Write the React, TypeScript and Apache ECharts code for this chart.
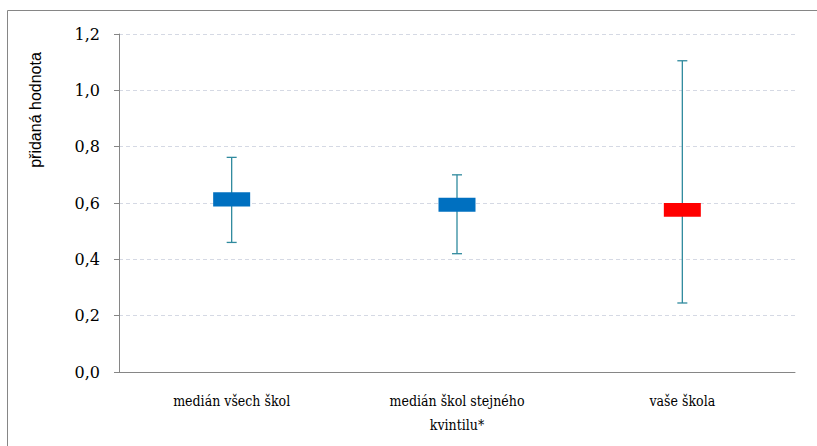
import React, { useEffect, useRef } from "react";
import * as echarts from "echarts";

const categories = ["medián všech škol", "medián škol stejného\nkvintilu*", "vaše škola"];
const whiskerLow = [0.46, 0.42, 0.245];
const boxLow = [0.588, 0.569, 0.551];
const boxHigh = [0.638, 0.619, 0.6];
const whiskerHigh = [0.762, 0.7, 1.105];
const boxColors = ["#0070C0", "#0070C0", "#FF0000"];
const yTicks = [0, 0.2, 0.4, 0.6, 0.8, 1.0, 1.2];

export default function App() {
  const ref = useRef<HTMLDivElement>(null);
  useEffect(() => {
    if (!ref.current) return;
    const chart = echarts.init(ref.current, null, { renderer: "svg" });
    const data = categories.map((_, i) => [i, whiskerLow[i], boxLow[i], boxHigh[i], whiskerHigh[i]]);
    chart.setOption({
      animation: false,
      backgroundColor: "#ffffff",
      graphic: [
        {
          type: "rect",
          shape: { x: 7.5, y: 10.5, width: 830, height: 460 },
          style: { fill: "none", stroke: "#868686", lineWidth: 1 },
          silent: true,
          z: -1,
        },
        {
          type: "text",
          x: 35,
          y: 110,
          rotation: Math.PI / 2,
          style: {
            text: "přidaná hodnota",
            fontFamily: "Liberation Sans",
            fontSize: 16,
            fill: "#000000",
            align: "center",
            verticalAlign: "middle",
          },
        },
      ],
      grid: { left: 119, right: 22, top: 34, bottom: 74, containLabel: false },
      xAxis: {
        type: "category",
        data: categories,
        axisLine: { show: true, lineStyle: { color: "#868686", width: 1 } },
        axisTick: { show: false },
        axisLabel: {
          margin: 17,
          color: "#000000",
          fontFamily: "DejaVu Serif Condensed",
          fontSize: 14,
          lineHeight: 24,
        },
        splitLine: { show: false },
      },
      yAxis: {
        type: "value",
        min: 0,
        max: 1.2,
        interval: 0.2,
        axisLine: { show: true, lineStyle: { color: "#868686", width: 1 } },
        axisTick: { show: true, length: 5, lineStyle: { color: "#868686" } },
        axisLabel: {
          margin: 19,
          color: "#000000",
          fontFamily: "DejaVu Serif",
          fontSize: 16,
          formatter: (v: number) => {
            const t = yTicks.find((x) => Math.abs(x - v) < 1e-6);
            return (t !== undefined ? t : v).toFixed(1).replace(".", ",");
          },
        },
        splitLine: { show: true, lineStyle: { color: "#D5D9E4", type: [4, 3], width: 1 } },
      },
      series: [
        {
          type: "custom",
          data,
          encode: { x: 0, y: [1, 2, 3, 4] },
          renderItem: (params: any, api: any) => {
            const i = api.value(0);
            const xc = api.coord([i, 0])[0];
            const yLo = api.coord([i, api.value(1)])[1];
            const yBl = api.coord([i, api.value(2)])[1];
            const yBh = api.coord([i, api.value(3)])[1];
            const yHi = api.coord([i, api.value(4)])[1];
            const boxW = 37;
            const capW = 10;
            const lineStyle = { stroke: "#2F8A9E", lineWidth: 1.3 };
            return {
              type: "group",
              children: [
                { type: "line", shape: { x1: xc, y1: yLo, x2: xc, y2: yHi }, style: lineStyle },
                { type: "line", shape: { x1: xc - capW / 2, y1: yHi, x2: xc + capW / 2, y2: yHi }, style: lineStyle },
                { type: "line", shape: { x1: xc - capW / 2, y1: yLo, x2: xc + capW / 2, y2: yLo }, style: lineStyle },
                {
                  type: "rect",
                  shape: { x: xc - boxW / 2, y: yBh, width: boxW, height: yBl - yBh },
                  style: { fill: boxColors[i] },
                },
              ],
            };
          },
        },
      ],
    });
    return () => chart.dispose();
  }, []);
  return (
    <div
      ref={ref}
      style={{ position: "fixed", left: 0, top: 0, width: 817, height: 446 }}
    />
  );
}
